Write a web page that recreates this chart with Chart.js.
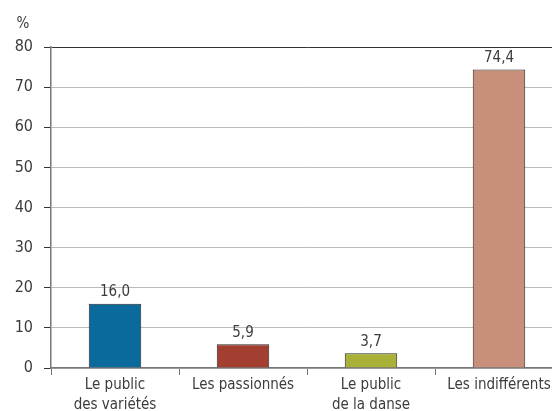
<!DOCTYPE html>
<html>
  <head>
    <meta charset="utf-8" />
    <title>Publics</title>
    <script src="https://cdn.jsdelivr.net/npm/chart.js"></script>
    <style>
      body {
        margin: 0;
        overflow: hidden;
        background: #fff;
      }
    </style>
  </head>
  <body>
    <canvas id="graph" width="565" height="411"></canvas>
    <script>
      const categories = [
        ["Le public", "des variétés"],
        "Les passionnés",
        ["Le public", "de la danse"],
        "Les indifférents",
      ];
      const values = [16.0, 5.9, 3.7, 74.4];
      const barColors = ["#0b6a9c", "#a23f30", "#a9b139", "#c88f7b"];
      const yTicks = [0, 10, 20, 30, 40, 50, 60, 70, 80];

      const fontFamily =
        "'Liberation Sans Narrow', 'DejaVu Sans Condensed', 'Roboto', sans-serif";
      const textColor = "#3c3c3c";

      // draws the value above each bar and the "%" unit above the y axis
      const labelsPlugin = {
        id: "labels",
        afterDatasetsDraw(chart) {
          const ctx = chart.ctx;
          const meta = chart.getDatasetMeta(0);
          ctx.save();
          ctx.font = "15px " + fontFamily;
          ctx.fillStyle = textColor;
          ctx.textAlign = "center";
          ctx.textBaseline = "bottom";
          meta.data.forEach((bar, i) => {
            const txt = values[i].toFixed(1).replace(".", ",");
            ctx.fillText(txt, bar.x, bar.y - 4);
          });
          const y = chart.scales.y;
          ctx.textBaseline = "middle";
          ctx.fillText("%", y.right - 28, y.top - 23);
          ctx.restore();
        },
      };

      new Chart(document.getElementById("graph").getContext("2d"), {
        type: "bar",
        data: {
          labels: categories,
          datasets: [
            {
              data: values,
              backgroundColor: barColors,
              borderColor: "#2a2a2a",
              borderWidth: 1,
              categoryPercentage: 1,
              barPercentage: 0.41,
            },
          ],
        },
        options: {
          responsive: false,
          animation: false,
          layout: { padding: { top: 47, left: 0, right: 2, bottom: 0 } },
          plugins: { legend: { display: false }, tooltip: { enabled: false } },
          scales: {
            x: {
              afterFit: (scale) => {
                scale.height = 43;
              },
              grid: {
                offset: true,
                drawOnChartArea: false,
                tickLength: 7,
                color: "#777",
              },
              border: { color: "#777", width: 1.5 },
              ticks: {
                color: textColor,
                padding: 0,
                font: { family: fontFamily, size: 15, lineHeight: 1.35 },
                maxRotation: 0,
              },
            },
            y: {
              min: 0,
              max: 80,
              afterBuildTicks: (scale) => {
                scale.ticks = yTicks.map((v) => ({ value: v }));
              },
              afterFit: (scale) => {
                scale.width = 51;
              },
              grid: {
                color: (c) => (c.tick && c.tick.value === 80 ? "#333" : "#bbb"),
                tickColor: "#333",
                tickLength: 7,
              },
              border: { color: "#777", width: 1.5 },
              ticks: {
                color: textColor,
                padding: 11,
                font: { family: fontFamily, size: 16 },
              },
            },
          },
        },
        plugins: [labelsPlugin],
      });
    </script>
  </body>
</html>
